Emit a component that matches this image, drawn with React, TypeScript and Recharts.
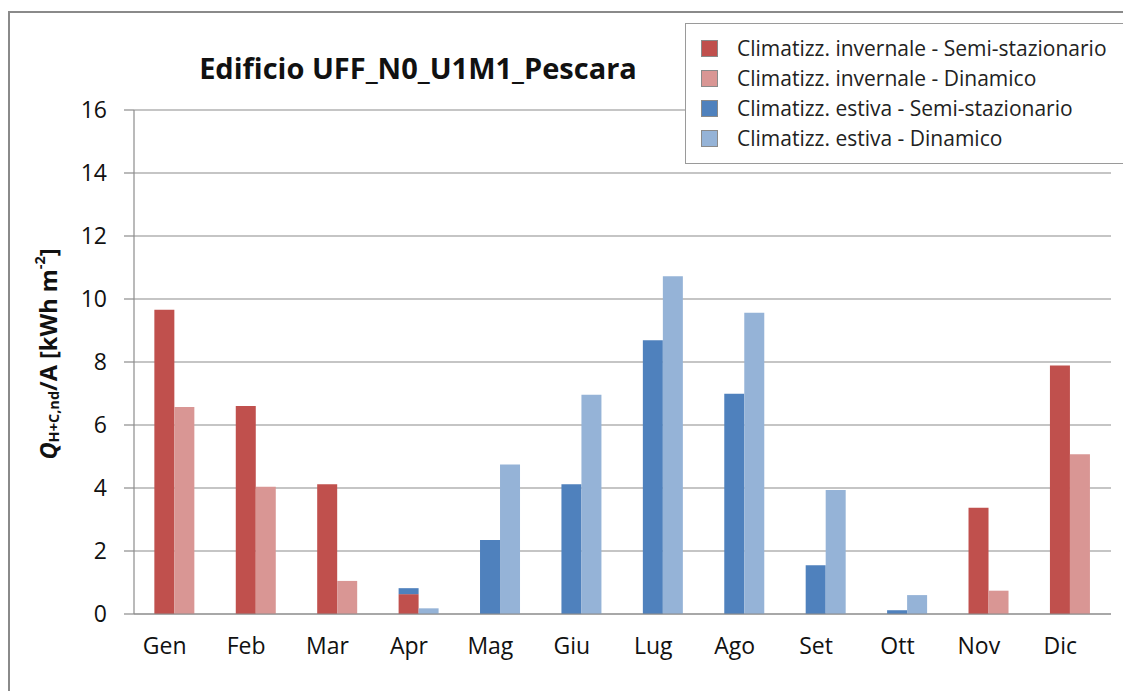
import React from "react";
import { Bar, BarChart, CartesianGrid, Legend, XAxis, YAxis } from "recharts";

const months = ["Gen", "Feb", "Mar", "Apr", "Mag", "Giu", "Lug", "Ago", "Set", "Ott", "Nov", "Dic"];
const invernaleSemi = [9.66, 6.6, 4.12, 0.63, 0, 0, 0, 0, 0, 0, 3.37, 7.89];
const invernaleDin = [6.57, 4.04, 1.05, 0, 0, 0, 0, 0, 0, 0, 0.74, 5.07];
const estivaSemi = [0, 0, 0, 0.19, 2.35, 4.12, 8.69, 6.99, 1.55, 0.12, 0, 0];
const estivaDin = [0, 0, 0, 0.18, 4.75, 6.96, 10.72, 9.56, 3.94, 0.6, 0, 0];
const yTicks = [0, 2, 4, 6, 8, 10, 12, 14, 16];

const series = [
    { key: "invSemi", name: "Climatizz. invernale - Semi-stazionario", color: "#C0504D", stack: "semi" },
    { key: "invDin", name: "Climatizz. invernale - Dinamico", color: "#D99694", stack: "din" },
    { key: "estSemi", name: "Climatizz. estiva - Semi-stazionario", color: "#4F81BD", stack: "semi" },
    { key: "estDin", name: "Climatizz. estiva - Dinamico", color: "#95B3D7", stack: "din" },
];

const data = months.map((m, i) => ({
    name: m,
    invSemi: invernaleSemi[i],
    invDin: invernaleDin[i],
    estSemi: estivaSemi[i],
    estDin: estivaDin[i],
}));

const FONT = "'Open Sans', sans-serif";
const GRID = "#8c8c8c";

function MonthTick({ x, y, payload }: any) {
    return (
        <text x={x - 10} y={y} dy="0.71em" textAnchor="middle" fontSize={23} fill="#111" fontFamily={FONT}>
            {payload.value}
        </text>
    );
}

function YTitle({ viewBox }: any) {
    const cx = 40;
    const cy = viewBox.y + viewBox.height / 2 - 8;
    return (
        <text
            x={cx}
            y={cy}
            transform={`rotate(-90 ${cx} ${cy})`}
            textAnchor="middle"
            dominantBaseline="central"
            fontSize={23.5}
            fontWeight="bold"
            fill="#111"
            fontFamily={FONT}
        >
            <tspan fontStyle="italic">Q</tspan>
            <tspan fontSize={14.5} dy={5}>H+C,nd</tspan>
            <tspan dy={-5}>/A [kWh m</tspan>
            <tspan fontSize={14.5} dy={-9}>-2</tspan>
            <tspan dy={9}>]</tspan>
        </text>
    );
}

function LegendBox() {
    return (
        <div
            style={{
                border: "1.5px solid #9a9a9a",
                background: "#fff",
                padding: "9px 0 10px 15px",
                boxSizing: "border-box",
                width: 445,
                fontFamily: FONT,
            }}
        >
            {series.map((s) => (
                <div key={s.key} style={{ display: "flex", alignItems: "center", height: 30 }}>
                    <span
                        style={{
                            width: 17,
                            height: 17,
                            background: s.color,
                            border: "1px solid #8a8a8a",
                            boxSizing: "border-box",
                            marginRight: 19,
                        }}
                    />
                    <span style={{ fontSize: 21, color: "#222", whiteSpace: "nowrap" }}>{s.name}</span>
                </div>
            ))}
        </div>
    );
}

export default function App() {
    return (
        <div style={{ position: "relative", width: 1123, height: 683, fontFamily: FONT }}>
            <div
                style={{
                    position: "absolute",
                    left: 0,
                    top: 3,
                    right: -10,
                    bottom: -10,
                    borderLeft: "2px solid #8a8a8a",
                    borderTop: "2px solid #8a8a8a",
                }}
            />
            <div
                style={{
                    position: "absolute",
                    left: 190,
                    top: 40,
                    width: 440,
                    textAlign: "center",
                    fontSize: 29,
                    fontWeight: "bold",
                    color: "#111",
                    whiteSpace: "nowrap",
                }}
            >
                Edificio UFF_N0_U1M1_Pescara
            </div>
            <BarChart
                width={1123}
                height={683}
                data={data}
                margin={{ top: 102, right: 20, bottom: 0, left: 0 }}
                barCategoryGap="25%"
                barGap={0}
            >
                <CartesianGrid vertical={false} stroke={GRID} strokeWidth={1.2} />
                <XAxis
                    dataKey="name"
                    height={77}
                    axisLine={{ stroke: GRID, strokeWidth: 1.2 }}
                    tickLine={false}
                    tickSize={0}
                    tickMargin={24}
                    tick={<MonthTick />}
                    interval={0}
                />
                <YAxis
                    width={126}
                    domain={[0, 16]}
                    ticks={yTicks}
                    interval={0}
                    axisLine={{ stroke: GRID, strokeWidth: 1.2 }}
                    tickLine={{ stroke: GRID, strokeWidth: 1.2 }}
                    tickSize={10}
                    tickMargin={17}
                    tick={{ fontSize: 23, fill: "#111", fontFamily: FONT }}
                    label={<YTitle />}
                />
                <Legend
                    layout="vertical"
                    align="center"
                    verticalAlign="middle"
                    content={<LegendBox />}
                    wrapperStyle={{ top: 15, left: 677, width: 445 }}
                />
                {series.map((s) => (
                    <Bar
                        key={s.key}
                        dataKey={s.key}
                        name={s.name}
                        stackId={s.stack}
                        fill={s.color}
                        isAnimationActive={false}
                    />
                ))}
            </BarChart>
        </div>
    );
}
